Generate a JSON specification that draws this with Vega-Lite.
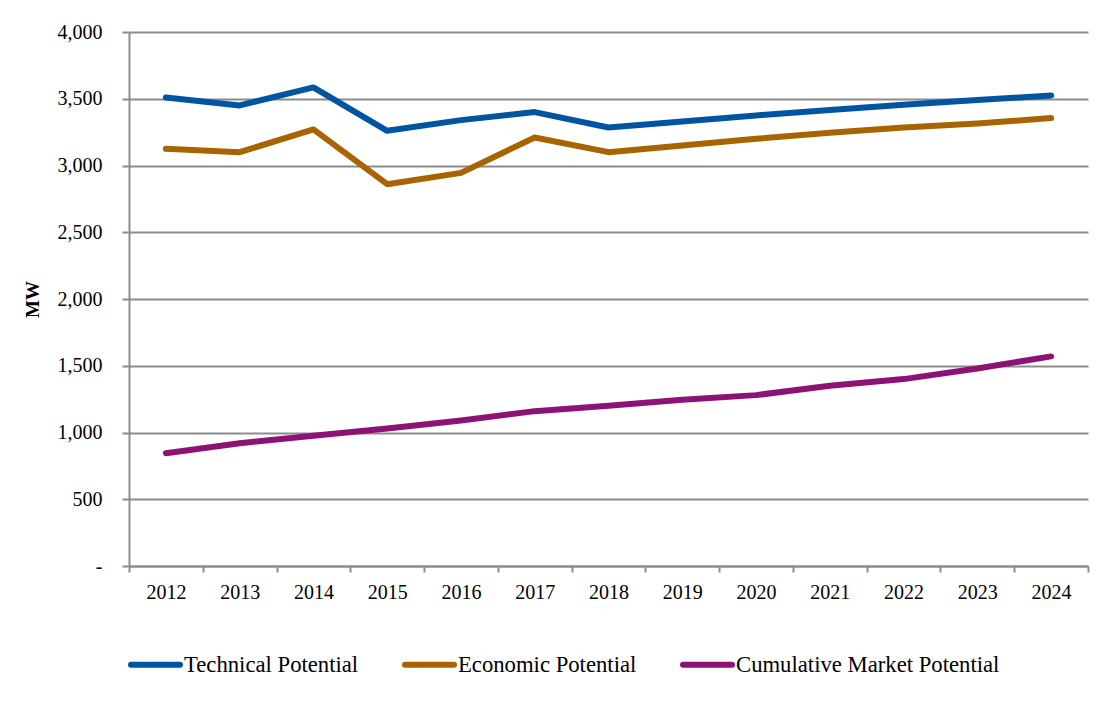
{
  "$schema": "https://vega.github.io/schema/vega-lite/v6.json",
  "autosize": {"type": "none"},
  "padding": {"left": 129, "top": 32, "right": 18, "bottom": 137},
  "width": 959,
  "height": 534,
  "background": "white",
  "config": {
    "view": {"stroke": null},
    "font": "Liberation Serif",
    "axis": {"labelFont": "Liberation Serif", "labelFontSize": 20, "labelColor": "#000000", "domainColor": "#8c8c8c", "domainWidth": 2, "tickColor": "#8c8c8c", "tickWidth": 2, "gridColor": "#8c8c8c", "gridWidth": 2}
  },
  "data": {
    "values": [
      {"year": "2012", "series": "Technical Potential", "mw": 3510},
      {"year": "2013", "series": "Technical Potential", "mw": 3450},
      {"year": "2014", "series": "Technical Potential", "mw": 3585},
      {"year": "2015", "series": "Technical Potential", "mw": 3260},
      {"year": "2016", "series": "Technical Potential", "mw": 3340},
      {"year": "2017", "series": "Technical Potential", "mw": 3400},
      {"year": "2018", "series": "Technical Potential", "mw": 3285},
      {"year": "2019", "series": "Technical Potential", "mw": 3330},
      {"year": "2020", "series": "Technical Potential", "mw": 3375},
      {"year": "2021", "series": "Technical Potential", "mw": 3415},
      {"year": "2022", "series": "Technical Potential", "mw": 3455},
      {"year": "2023", "series": "Technical Potential", "mw": 3490},
      {"year": "2024", "series": "Technical Potential", "mw": 3525},
      {"year": "2012", "series": "Economic Potential", "mw": 3125},
      {"year": "2013", "series": "Economic Potential", "mw": 3100},
      {"year": "2014", "series": "Economic Potential", "mw": 3270},
      {"year": "2015", "series": "Economic Potential", "mw": 2860},
      {"year": "2016", "series": "Economic Potential", "mw": 2945},
      {"year": "2017", "series": "Economic Potential", "mw": 3210},
      {"year": "2018", "series": "Economic Potential", "mw": 3100},
      {"year": "2019", "series": "Economic Potential", "mw": 3150},
      {"year": "2020", "series": "Economic Potential", "mw": 3200},
      {"year": "2021", "series": "Economic Potential", "mw": 3245},
      {"year": "2022", "series": "Economic Potential", "mw": 3285},
      {"year": "2023", "series": "Economic Potential", "mw": 3315},
      {"year": "2024", "series": "Economic Potential", "mw": 3355},
      {"year": "2012", "series": "Cumulative Market Potential", "mw": 845},
      {"year": "2013", "series": "Cumulative Market Potential", "mw": 920},
      {"year": "2014", "series": "Cumulative Market Potential", "mw": 975},
      {"year": "2015", "series": "Cumulative Market Potential", "mw": 1030},
      {"year": "2016", "series": "Cumulative Market Potential", "mw": 1090},
      {"year": "2017", "series": "Cumulative Market Potential", "mw": 1160},
      {"year": "2018", "series": "Cumulative Market Potential", "mw": 1200},
      {"year": "2019", "series": "Cumulative Market Potential", "mw": 1245},
      {"year": "2020", "series": "Cumulative Market Potential", "mw": 1280},
      {"year": "2021", "series": "Cumulative Market Potential", "mw": 1350},
      {"year": "2022", "series": "Cumulative Market Potential", "mw": 1400},
      {"year": "2023", "series": "Cumulative Market Potential", "mw": 1480},
      {"year": "2024", "series": "Cumulative Market Potential", "mw": 1570}
    ]
  },
  "mark": {"type": "line", "strokeWidth": 6, "strokeCap": "round", "strokeJoin": "round"},
  "encoding": {
    "x": {
      "field": "year",
      "type": "ordinal",
      "bandPosition": 0.5,
      "scale": {"type": "band", "paddingInner": 0, "paddingOuter": 0},
      "axis": {"title": null, "labelAngle": 0, "tickBand": "extent", "tickSize": 6, "labelPadding": 10, "grid": false}
    },
    "y": {
      "field": "mw",
      "type": "quantitative",
      "scale": {"domain": [0, 4000], "nice": false, "zero": true},
      "axis": {
        "title": "MW",
        "titleFont": "Liberation Serif",
        "titleFontSize": 19,
        "titleFontWeight": "bold",
        "titleColor": "#000000",
        "titleX": -97,
        "titleY": 267,
        "titleAngle": -90,
        "titleBaseline": "middle",
        "titleAlign": "center",
        "values": [0, 500, 1000, 1500, 2000, 2500, 3000, 3500, 4000],
        "tickSize": 7,
        "labelPadding": 20,
        "grid": true,
        "labelExpr": "datum.value === 0 ? '-' : format(datum.value, ',')",
        "encode": {"labels": {"update": {"dx": {"signal": "datum.value === 0 ? -10 : 0"}}}}
      }
    },
    "color": {
      "field": "series",
      "type": "nominal",
      "sort": ["Technical Potential", "Economic Potential", "Cumulative Market Potential"],
      "scale": {
        "domain": ["Technical Potential", "Economic Potential", "Cumulative Market Potential"],
        "range": ["#0055a0", "#a86400", "#8c1276"]
      },
      "legend": {
        "title": null,
        "orient": "none",
        "legendX": -1,
        "legendY": 605,
        "direction": "horizontal",
        "symbolType": "stroke",
        "symbolSize": 2400,
        "symbolStrokeWidth": 6,
        "labelFont": "Liberation Serif",
        "labelFontSize": 22.7,
        "labelColor": "#000000",
        "labelOffset": 1,
        "columnPadding": 34,
        "labelLimit": 400,
        "encode": {"symbols": {"update": {"strokeCap": {"value": "round"}}}}
      }
    }
  }
}
